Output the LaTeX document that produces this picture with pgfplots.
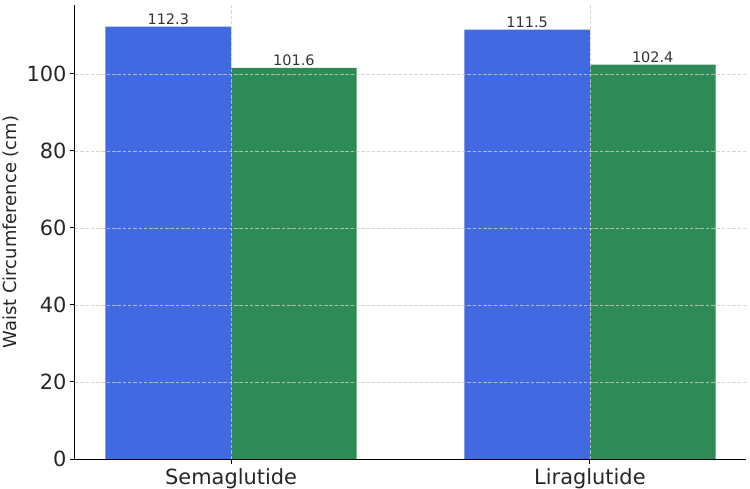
\documentclass[border=0pt]{standalone}
\usepackage{pgfplots}
\pgfplotsset{compat=1.18}
\usepackage{fontspec}
\setmainfont{DejaVu Sans}
\definecolor{barblue}{HTML}{4169E1}
\definecolor{bargreen}{HTML}{2E8B57}
\definecolor{gridgray}{HTML}{CCCCCC}
\definecolor{txt}{HTML}{333333}
\begin{document}
\begin{tikzpicture}
\begin{axis}[
  name=ax,
  scale only axis,
  width=671bp, height=454bp,
  xmin=-0.435, xmax=1.435,
  ymin=0, ymax=117.9,
  axis lines=left,
  axis line style={-, black, line width=1bp},
  axis on top,
  xtick={0,1},
  xticklabels={Semaglutide, Liraglutide},
  ytick={0,20,40,60,80,100},
  tick style={black, line width=1bp},
  major tick length=5bp,
  tick align=outside,
  ymajorgrids, xmajorgrids,
  grid style={gridgray, line width=0.8bp, dash pattern=on 3.5bp off 1.8bp, opacity=0.8},
  /pgf/number format/assume math mode=true,
  ticklabel style={font=\fontsize{21}{25}\selectfont, text=black!85},
  xticklabel style={yshift=-1bp},
  ylabel={Waist Circumference (cm)},
  ylabel style={at={(axis description cs:0,0.5)}, anchor=center, yshift=64bp, font=\fontsize{18}{21}\selectfont, text=black!85},
  ybar, bar width=0.35,
  nodes near coords={\pgfmathprintnumber[fixed,fixed zerofill,precision=1]{\pgfplotspointmeta}},
  nodes near coords style={font=\fontsize{14.5}{17}\selectfont, text=txt, inner sep=2bp},
]
\addplot[fill=barblue, draw=none, bar shift=-0.175] coordinates {(0,112.3) (1,111.5)};
\addplot[fill=bargreen, draw=none, bar shift=0.175] coordinates {(0,101.6) (1,102.4)};
\end{axis}
\pgfresetboundingbox
\useasboundingbox ([xshift=-75bp,yshift=-30bp]ax.south west) rectangle ([xshift=4bp,yshift=5bp]ax.north east);
\end{tikzpicture}
\end{document}
